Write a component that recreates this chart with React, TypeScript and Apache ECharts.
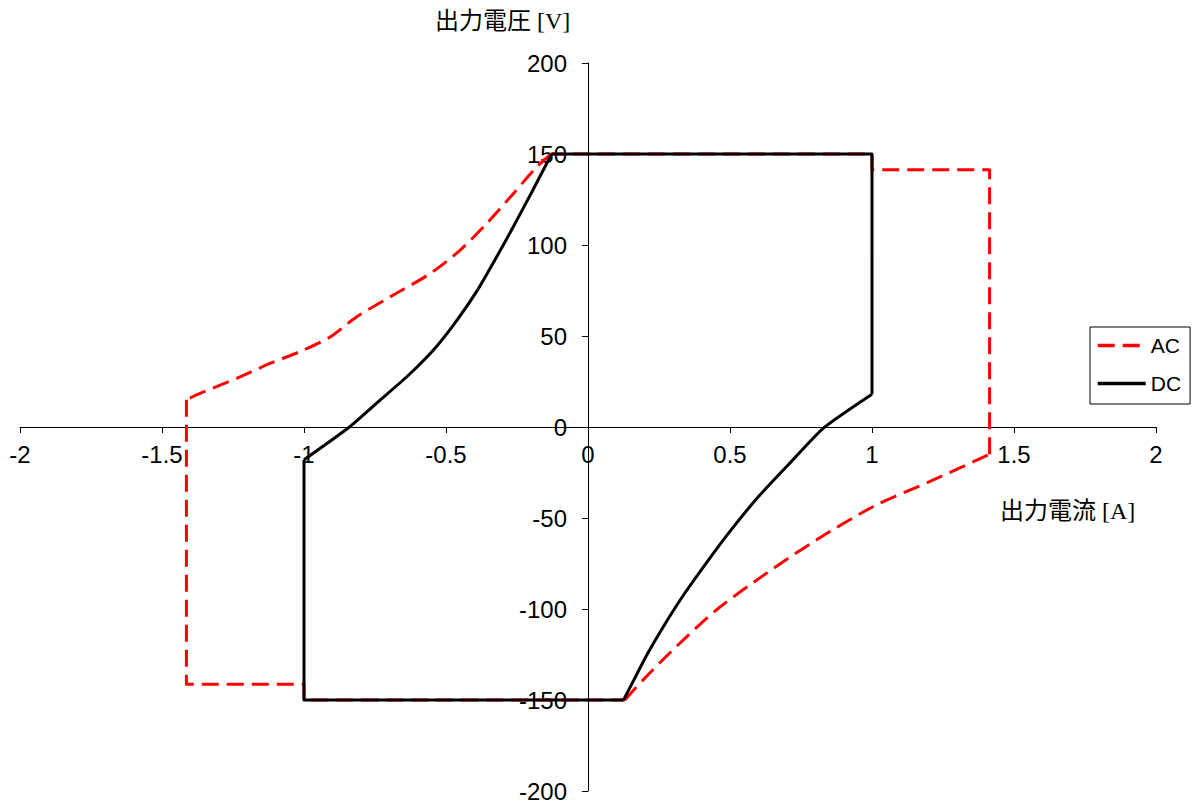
import React, { useEffect, useRef } from "react";
import * as echarts from "echarts";

const xTicks = { min: -2, max: 2, interval: 0.5 };
const yTicks = { min: -200, max: 200, interval: 50 };

const seriesNames = ["AC", "DC"];

// AC: curved parts and straight edges
const acCurveLower: [number, number][] = [
  [0.13, -150], [0.195, -138.8], [0.312, -120.5], [0.453, -100.4], [0.629, -80.3],
  [0.805, -62], [1.005, -43.7], [1.216, -29.1], [1.414, -15],
];
const acCurveUpper: [number, number][] = [
  [-0.13, 150], [-0.181, 142.8], [-0.263, 128.2], [-0.357, 111.8], [-0.451, 97.1],
  [-0.556, 84.3], [-0.697, 71.5], [-0.815, 60.5], [-0.908, 49.5],
  [-1.002, 42.2], [-1.12, 34.9], [-1.237, 26.7], [-1.366, 18.5], [-1.414, 15],
];
const acEdgeRight: [number, number][] = [
  [1.414, -15], [1.414, 141.4], [1, 141.4], [1, 150], [-0.13, 150],
];
const acEdgeLeft: [number, number][] = [
  [-1.414, 15], [-1.414, -141.4], [-1, -141.4], [-1, -150], [0.13, -150],
];

// DC: curved parts and straight edges
const dcCurveLower: [number, number][] = [
  [0.125, -150], [0.163, -138.5], [0.211, -124.2], [0.27, -108.5], [0.34, -91.5],
  [0.422, -73.5], [0.504, -56.5], [0.599, -38.5], [0.71, -20], [0.83, -0.5],
  [1, 18],
];
const dcCurveUpper: [number, number][] = [
  [-0.128, 150], [-0.193, 130.5], [-0.263, 110], [-0.322, 93.4], [-0.392, 74.5],
  [-0.474, 56], [-0.545, 42.2], [-0.638, 27.6], [-0.732, 14.8], [-0.84, 0],
  [-1, -18],
];
const dcEdgeRight: [number, number][] = [[1, 18], [1, 150], [-0.128, 150]];
const dcEdgeLeft: [number, number][] = [[-1, -18], [-1, -150], [0.125, -150]];

const xAxisName = "出力電流 [A]";
const yAxisName = "出力電圧 [V]";

const sansFont = '"Liberation Sans", Arial, sans-serif';
const nameFont = '"Liberation Serif", "Noto Sans CJK JP", serif';

const acStyle = { color: "#ff0000", width: 3, type: [17, 8], join: "round", cap: "butt" };
const dcStyle = { color: "#000000", width: 3, type: "solid", join: "round" };

function mk(name: string, data: [number, number][], style: any, smooth: number | boolean, z: number) {
  return {
    name,
    type: "line",
    data,
    symbol: "none",
    smooth,
    lineStyle: style,
    itemStyle: { color: style.color },
    z,
  };
}

export default function App() {
  const ref = useRef<HTMLDivElement>(null);
  useEffect(() => {
    if (!ref.current) return;
    const chart = echarts.init(ref.current, undefined, { renderer: "svg" });
    chart.setOption({
      animation: false,
      backgroundColor: "#fff",
      grid: { left: 20, right: 36, top: 63, bottom: 12, containLabel: false, outerBoundsMode: "none" },
      legend: {
        orient: "vertical",
        left: 1090,
        top: 327,
        data: seriesNames,
        itemWidth: 48,
        itemHeight: 20,
        itemGap: 17,
        padding: [8, 9, 10, 6],
        borderColor: "#000",
        borderWidth: 1,
        borderRadius: 0,
        itemStyle: { opacity: 0 },
        lineStyle: { width: 3.5 },
        textStyle: { fontFamily: sansFont, fontSize: 21, color: "#000" },
      },
      xAxis: {
        type: "value",
        min: xTicks.min,
        max: xTicks.max,
        interval: xTicks.interval,
        offset: -364,
        splitLine: { show: false },
        axisLine: { onZero: false, lineStyle: { color: "#000", width: 1 } },
        axisTick: { show: true, length: 6, lineStyle: { color: "#000" } },
        axisLabel: { margin: 15, fontFamily: sansFont, fontSize: 24, color: "#000" },
      },
      yAxis: {
        type: "value",
        min: yTicks.min,
        max: yTicks.max,
        interval: yTicks.interval,
        offset: -568,
        splitLine: { show: false },
        axisLine: { onZero: false, lineStyle: { color: "#000", width: 1 } },
        axisTick: { show: true, length: 6, lineStyle: { color: "#000" } },
        axisLabel: { margin: 21, fontFamily: sansFont, fontSize: 24, color: "#000" },
      },
      graphic: [
        {
          type: "text",
          left: 435,
          top: 9,
          style: { text: yAxisName, fontFamily: nameFont, fontSize: 24, fill: "#000" },
        },
        {
          type: "text",
          left: 1000,
          top: 499,
          style: { text: xAxisName, fontFamily: nameFont, fontSize: 24, fill: "#000" },
        },
      ],
      series: [
        mk(seriesNames[0], acEdgeLeft, acStyle, false, 2),
        mk(seriesNames[0], acCurveLower, acStyle, 0.3, 2),
        mk(seriesNames[0], acEdgeRight, acStyle, false, 2),
        mk(seriesNames[0], acCurveUpper, acStyle, 0.3, 2),
        mk(seriesNames[1], dcEdgeLeft, dcStyle, false, 3),
        mk(seriesNames[1], dcCurveLower, dcStyle, 0.2, 3),
        mk(seriesNames[1], dcEdgeRight, dcStyle, false, 3),
        mk(seriesNames[1], dcCurveUpper, dcStyle, 0.2, 3),
      ],
    });
    return () => chart.dispose();
  }, []);
  return (
    <div
      ref={ref}
      style={{ position: "fixed", left: 0, top: 0, width: 1192, height: 803, background: "#fff" }}
    />
  );
}
